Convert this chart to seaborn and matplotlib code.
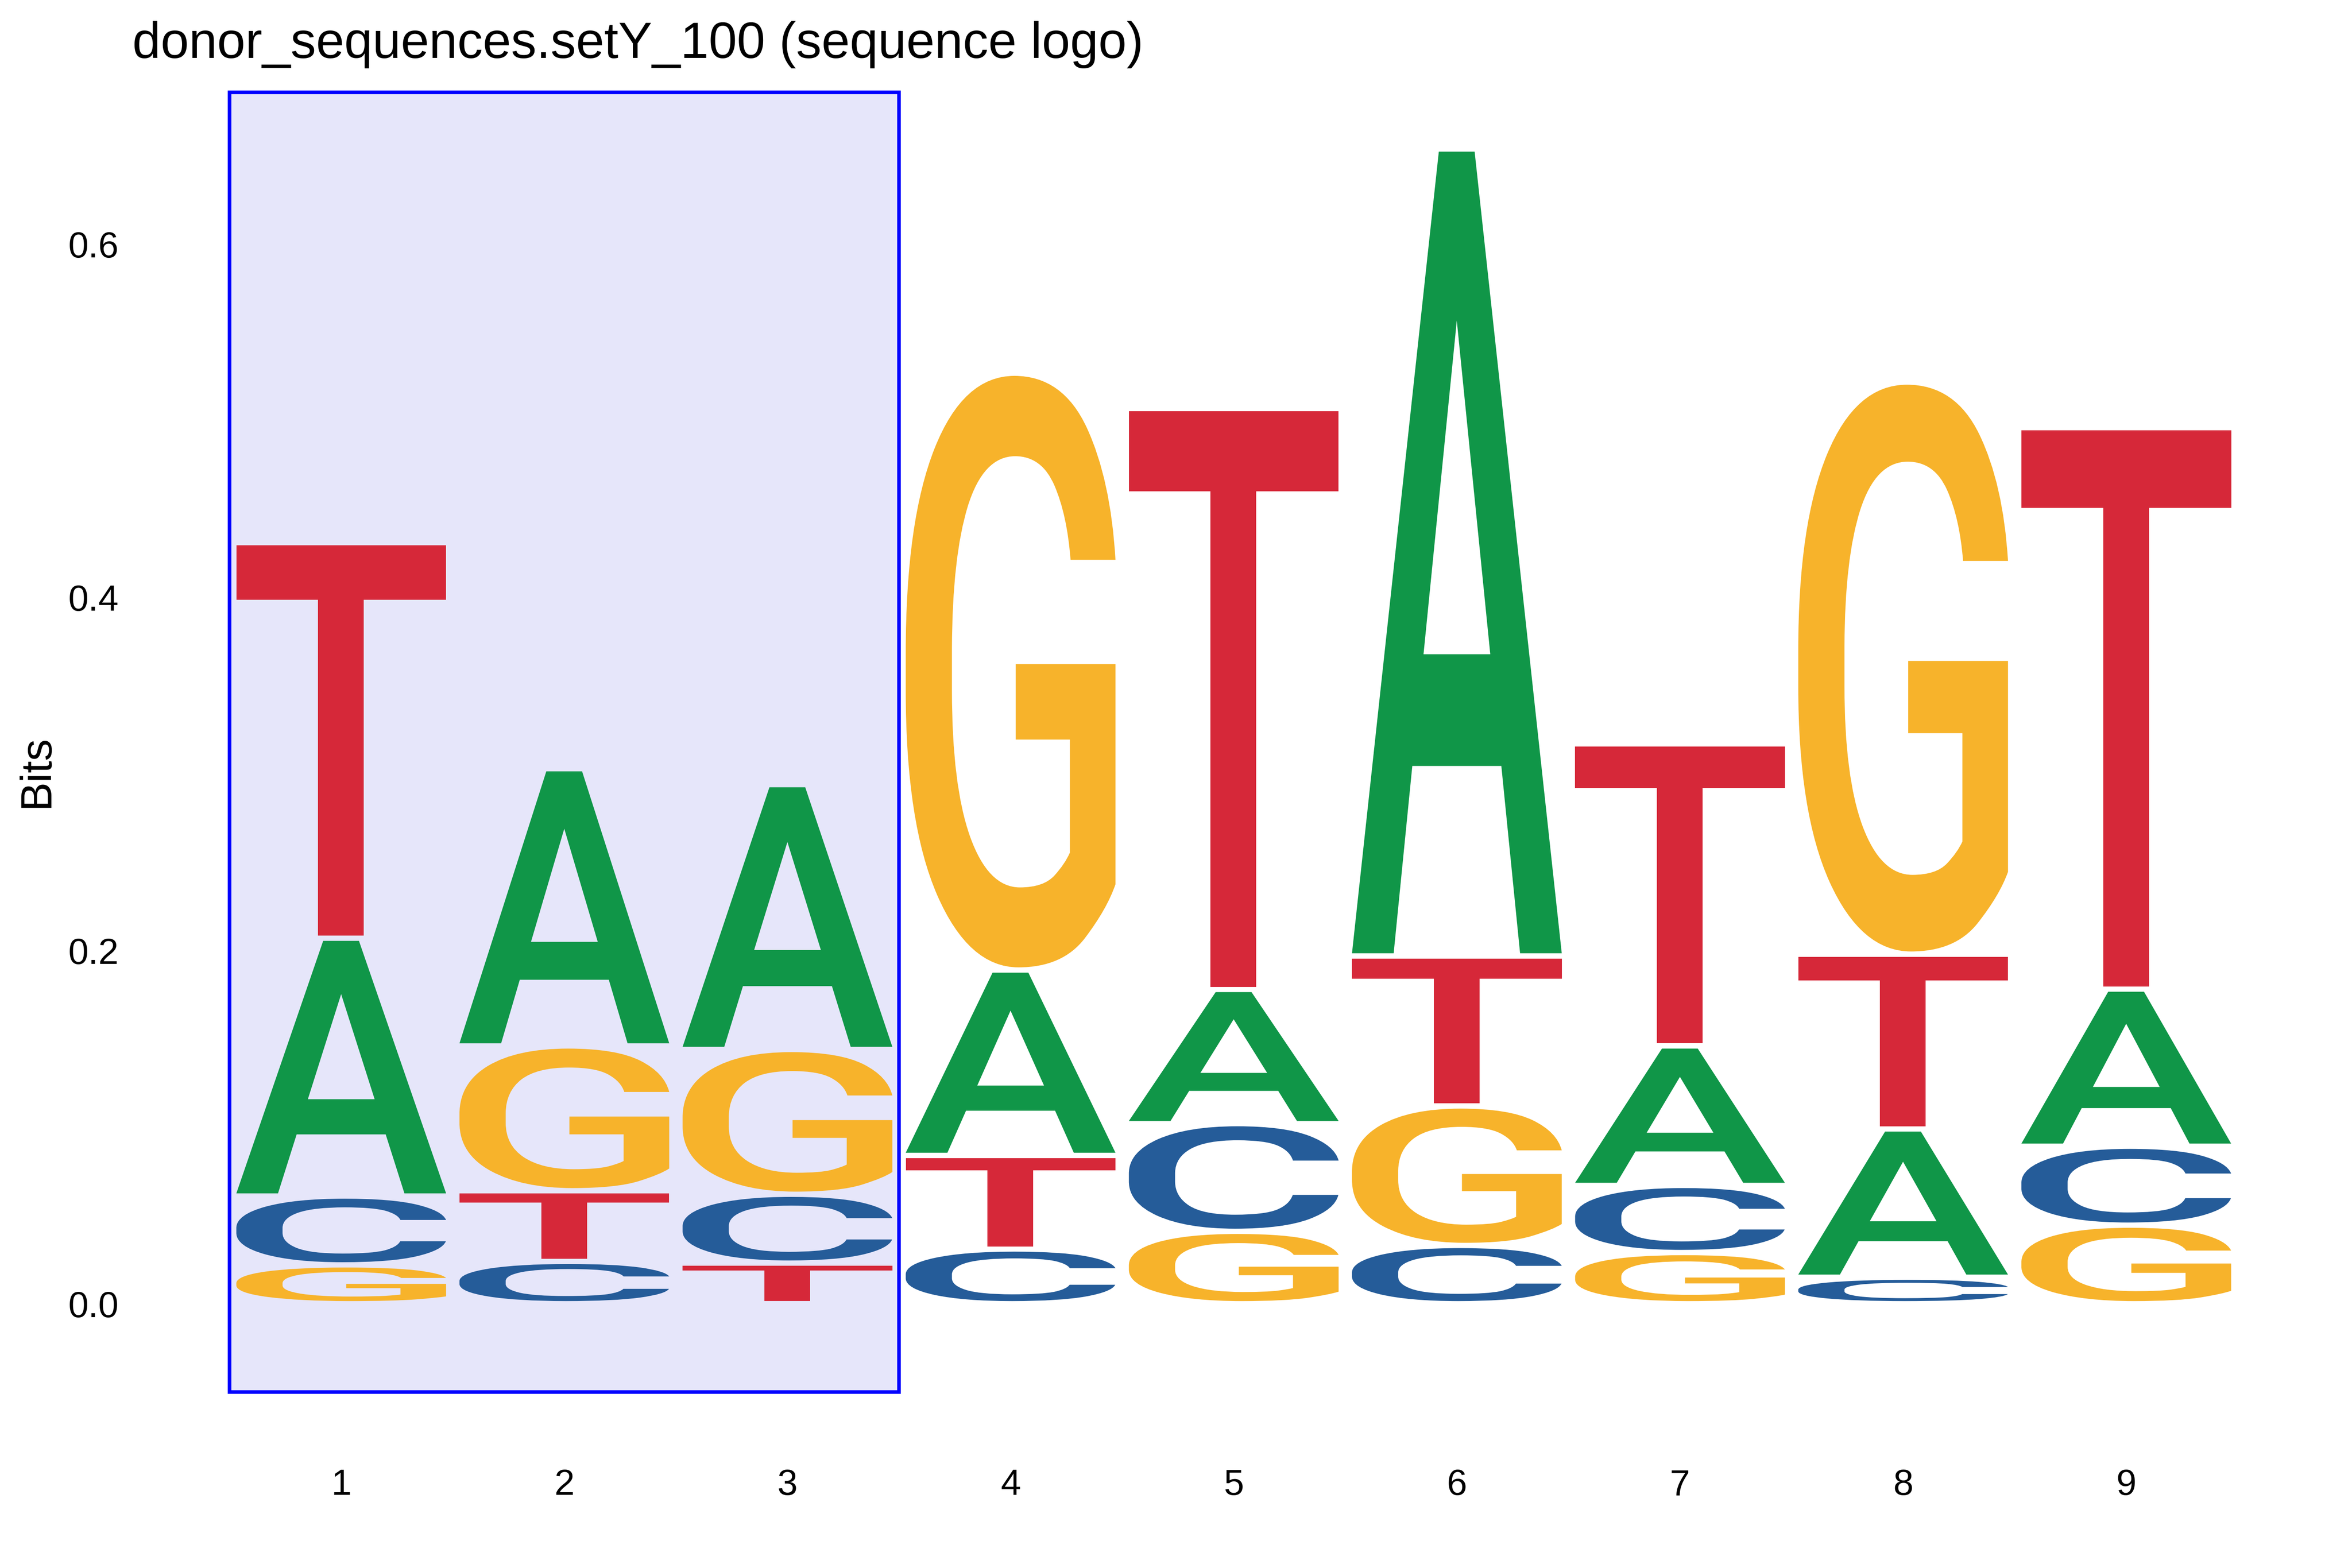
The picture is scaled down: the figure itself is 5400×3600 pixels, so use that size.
import numpy as np
import pandas as pd
import matplotlib
matplotlib.use("Agg")
import matplotlib.pyplot as plt
import seaborn as sns
from matplotlib.textpath import TextPath
from matplotlib.patches import PathPatch, Rectangle
from matplotlib.font_manager import FontProperties
from matplotlib.transforms import Affine2D

# information content (bits) per position
positions = [1, 2, 3, 4, 5, 6, 7, 8, 9]
bits_A = [0.146, 0.157, 0.150, 0.105, 0.076, 0.457, 0.079, 0.084, 0.089]
bits_C = [0.039, 0.024, 0.039, 0.031, 0.061, 0.033, 0.038, 0.015, 0.0447]
bits_G = [0.022, 0.082, 0.082, 0.338, 0.041, 0.079, 0.029, 0.324, 0.0445]
bits_T = [0.224, 0.040, 0.023, 0.053, 0.329, 0.085, 0.171, 0.099, 0.318]

y_ticks = [0.0, 0.2, 0.4, 0.6]
title = "donor_sequences.setY_100 (sequence logo)"
highlight_range = (1, 3)

letter_colors = {"A": "#109648", "C": "#255C99", "G": "#F7B32B", "T": "#D62839"}

sns.set_theme(style="white")
plt.rcParams["font.family"] = ["Liberation Sans", "DejaVu Sans"]

df = pd.DataFrame({"A": bits_A, "C": bits_C, "G": bits_G, "T": bits_T}, index=positions)

fig = plt.figure(figsize=(9, 6), dpi=600)
ax = fig.add_axes([0.0559, 0.0717, 0.9932 - 0.0559, 0.9444 - 0.0717])

glyph_font = FontProperties(family="Roboto", weight="medium")


def draw_letter(ax, char, x, floor, ceiling, width=0.94, vpad=0.0015):
    """Stretch a glyph so that it fills the box [x-w/2, x+w/2] x [floor, ceiling]."""
    path = TextPath((0, 0), char, size=1, prop=glyph_font)
    ext = path.get_extents()
    h = ceiling - floor - 2 * vpad
    if h <= 0:
        return
    tr = (Affine2D()
          .translate(-ext.x0, -ext.y0)
          .scale(width / ext.width, h / ext.height)
          .translate(x - width / 2, floor + vpad))
    ax.add_patch(PathPatch(tr.transform_path(path), facecolor=letter_colors[char],
                           edgecolor="none", zorder=3))


# stack letters, smallest at the bottom
for pos, row in df.iterrows():
    floor = 0.0
    for letter, val in row.sort_values().items():
        draw_letter(ax, letter, pos, floor, floor + val)
        floor += val

# highlighted positions
lo, hi = highlight_range
ax.add_patch(Rectangle((lo - 0.5, -0.05), hi - lo + 1, 0.686 + 0.05,
                       facecolor="#E6E6FA", edgecolor="blue", linewidth=1.0, zorder=1))

ax.set_xlim(0.06, 9.94)
ax.set_ylim(-0.086, 0.689)
ax.set_xticks(positions)
ax.set_xticklabels([str(p) for p in positions])
ax.set_yticks(y_ticks)
ax.set_yticklabels([f"{t:.1f}" for t in y_ticks])
ax.tick_params(length=0, labelsize=10, colors="black")
sns.despine(ax=ax, left=True, bottom=True)
ax.grid(False)

fig.text(85 / 5400, 1 - 1771 / 3600, "Bits", rotation=90, ha="center", va="center",
         fontsize=12, color="black")
fig.text(304 / 5400, 1 - 133 / 3600, title, ha="left", va="baseline",
         fontsize=14, color="black")

fig.savefig("out.png", dpi=600, facecolor="white")
